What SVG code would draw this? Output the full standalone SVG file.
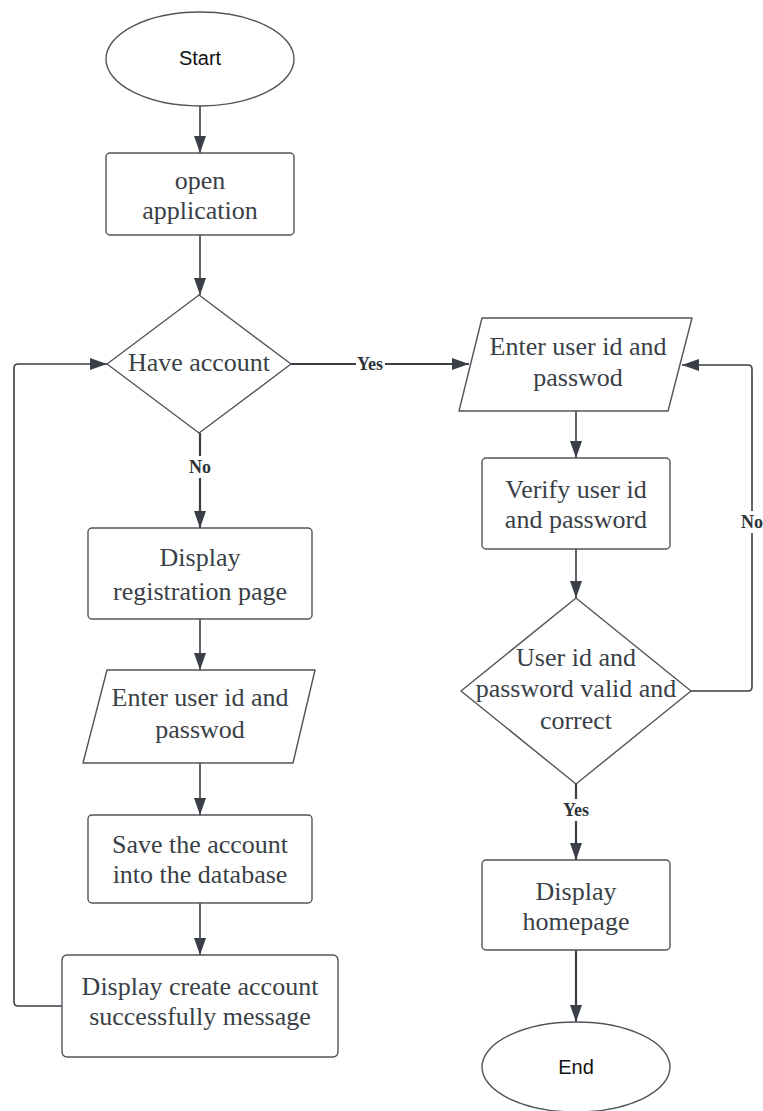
<svg xmlns="http://www.w3.org/2000/svg" width="763" height="1111" viewBox="0 0 763 1111">
  <style>
    .shape { fill: #ffffff; stroke: #50555c; stroke-width: 1.4; stroke-linejoin: round; }
    .lbl { font-family: "Liberation Serif", "Times New Roman", serif; font-size: 26px; fill: #3a3f47; text-anchor: middle; }
    .term { font-family: "Liberation Sans", Arial, sans-serif; font-size: 20px; fill: #111111; text-anchor: middle; }
    .edge { fill: none; stroke: #3a3f47; stroke-width: 1.6; }
    .edge-bold { fill: none; stroke: #3a3f47; stroke-width: 2.2; }
    .elbl { font-family: "Liberation Serif", "Times New Roman", serif; font-size: 18px; font-weight: bold; fill: #2e333a; text-anchor: middle; }
  </style>
  <defs>
    <marker id="arrow" markerUnits="userSpaceOnUse" markerWidth="17" markerHeight="12" refX="17" refY="6" orient="auto">
      <path d="M0,0 L17,6 L0,12 Z" fill="#3a3f47"/>
    </marker>
  </defs>
  <rect width="763" height="1111" fill="#ffffff"/>

  <!-- connectors -->
  <g id="connectors">
    <path class="edge" d="M200,106 V153" marker-end="url(#arrow)"/>
    <path class="edge" d="M200,235 V295" marker-end="url(#arrow)"/>
    <path class="edge-bold" d="M291,364 H469" marker-end="url(#arrow)"/>
    <path class="edge" d="M576,411 V458" marker-end="url(#arrow)"/>
    <path class="edge" d="M576,549 V598" marker-end="url(#arrow)"/>
    <path class="edge" d="M691,691 H748 Q752,691 752,687 V369 Q752,365 748,365 H682" marker-end="url(#arrow)"/>
    <path class="edge-bold" d="M576,784 V860" marker-end="url(#arrow)"/>
    <path class="edge-bold" d="M576,950 V1022" marker-end="url(#arrow)"/>
    <path class="edge-bold" d="M200,433 V528" marker-end="url(#arrow)"/>
    <path class="edge" d="M200,619 V670" marker-end="url(#arrow)"/>
    <path class="edge" d="M200,763 V815" marker-end="url(#arrow)"/>
    <path class="edge" d="M200,903 V955" marker-end="url(#arrow)"/>
    <path class="edge" d="M62,1006 H18 Q14,1006 14,1002 V368 Q14,364 18,364 H107" marker-end="url(#arrow)"/>

    <!-- edge labels -->
    <rect x="356" y="354" width="29" height="20" fill="#ffffff"/>
    <text class="elbl" x="370" y="370">Yes</text>
    <rect x="186" y="456" width="28" height="22" fill="#ffffff"/>
    <text class="elbl" x="200" y="473">No</text>
    <rect x="560" y="799" width="32" height="22" fill="#ffffff"/>
    <text class="elbl" x="576" y="816">Yes</text>
    <rect x="740" y="511" width="26" height="22" fill="#ffffff"/>
    <text class="elbl" x="752" y="528">No</text>
  </g>

  <g id="start">
    <ellipse class="shape" cx="200" cy="59" rx="94" ry="47"/>
    <text class="term" x="200" y="65">Start</text>
  </g>

  <g id="open-application">
    <rect class="shape" x="106" y="153" width="188" height="82" rx="4"/>
    <text class="lbl" x="200" y="189">open</text>
    <text class="lbl" x="200" y="219">application</text>
  </g>

  <g id="have-account">
    <polygon class="shape" points="199,295 291,364 199,433 107,364"/>
    <text class="lbl" x="199" y="371">Have account</text>
  </g>

  <g id="enter-login">
    <polygon class="shape" points="482,318 692,318 668,411 459,411"/>
    <text class="lbl" x="578" y="355">Enter user id and</text>
    <text class="lbl" x="578" y="386">passwod</text>
  </g>

  <g id="verify">
    <rect class="shape" x="482" y="458" width="188" height="91" rx="4"/>
    <text class="lbl" x="576" y="498">Verify user id</text>
    <text class="lbl" x="576" y="528">and password</text>
  </g>

  <g id="credentials-valid">
    <polygon class="shape" points="576,598 691,691 576,784 461,691"/>
    <text class="lbl" x="576" y="666">User id and</text>
    <text class="lbl" x="576" y="697">password valid and</text>
    <text class="lbl" x="576" y="729">correct</text>
  </g>

  <g id="display-homepage">
    <rect class="shape" x="482" y="860" width="188" height="90" rx="4"/>
    <text class="lbl" x="576" y="900">Display</text>
    <text class="lbl" x="576" y="930">homepage</text>
  </g>

  <g id="end">
    <ellipse class="shape" cx="576" cy="1067" rx="94" ry="45"/>
    <text class="term" x="576" y="1074">End</text>
  </g>

  <g id="display-registration">
    <rect class="shape" x="88" y="528" width="224" height="91" rx="4"/>
    <text class="lbl" x="200" y="566">Display</text>
    <text class="lbl" x="200" y="600">registration page</text>
  </g>

  <g id="enter-registration">
    <polygon class="shape" points="107,670 315,670 293,763 83,763"/>
    <text class="lbl" x="200" y="706">Enter user id and</text>
    <text class="lbl" x="200" y="738">passwod</text>
  </g>

  <g id="save-account">
    <rect class="shape" x="88" y="815" width="224" height="88" rx="4"/>
    <text class="lbl" x="200" y="853">Save the account</text>
    <text class="lbl" x="200" y="883">into the database</text>
  </g>

  <g id="display-success">
    <rect class="shape" x="62" y="955" width="276" height="102" rx="5"/>
    <text class="lbl" x="200" y="995">Display create account</text>
    <text class="lbl" x="200" y="1025">successfully message</text>
  </g>
</svg>
